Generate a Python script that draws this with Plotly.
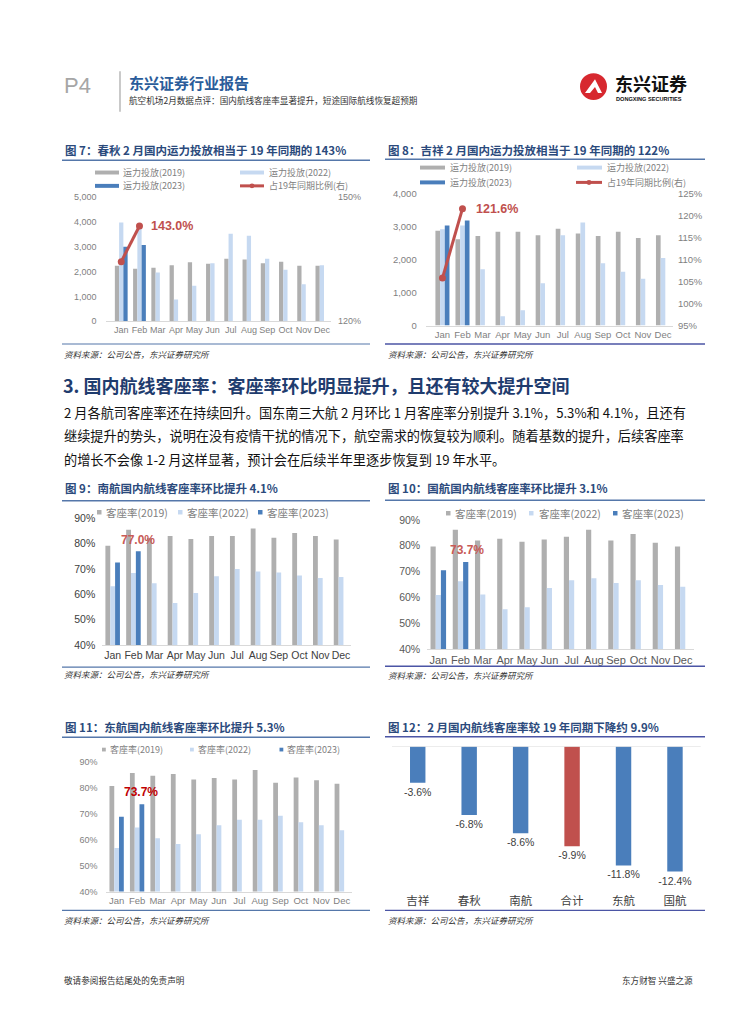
import plotly.graph_objects as go

W, H = 755, 1024
def X(px): return px / W
def Y(py): return 1 - py / H

months = ['Jan', 'Feb', 'Mar', 'Apr', 'May', 'Jun', 'Jul', 'Aug', 'Sep', 'Oct', 'Nov', 'Dec']

# Chart 7 - Spring Airlines capacity
cq_cap_2019 = [2230, 2110, 2150, 2250, 2370, 2310, 2520, 2490, 2330, 2400, 2230, 2230]
cq_cap_2022 = [3970, 3740, 1960, 880, 1430, 2330, 3520, 3440, 2520, 2070, 1490, 2250]
cq_cap_2023 = [3000, 3070, None, None, None, None, None, None, None, None, None, None]
cq_ratio = [1.344, 1.430]

# Chart 8 - Juneyao capacity
jx_cap_2019 = [2880, 2620, 2720, 2850, 2850, 2740, 2940, 2790, 2720, 2850, 2660, 2740]
jx_cap_2022 = [2920, 3040, 1710, 280, 460, 1280, 2740, 3130, 1890, 1630, 1420, 2050]
jx_cap_2023 = [3040, 3190, None, None, None, None, None, None, None, None, None, None]
jx_ratio = [1.058, 1.216]

# Chart 9 - China Southern load factor (%)
nh_lf_2019 = [79.2, 85.5, 82.2, 83.0, 81.8, 83.0, 83.0, 86.0, 82.3, 84.2, 83.0, 81.6]
nh_lf_2022 = [63.2, 68.4, 64.4, 56.6, 60.5, 67.1, 70.0, 69.0, 68.6, 67.4, 66.4, 66.8]
nh_lf_2023 = [72.6, 77.0, None, None, None, None, None, None, None, None, None, None]

# Chart 10 - Air China load factor (%)
gh_lf_2019 = [79.7, 86.2, 82.0, 82.7, 81.6, 82.4, 83.5, 86.2, 82.0, 84.6, 81.2, 79.7]
gh_lf_2022 = [61.0, 66.3, 61.2, 55.5, 56.3, 63.7, 66.7, 67.5, 65.6, 66.7, 64.9, 64.2]
gh_lf_2023 = [70.6, 73.7, None, None, None, None, None, None, None, None, None, None]

# Chart 11 - China Eastern load factor (%)
dh_lf_2019 = [80.7, 85.8, 84.7, 85.4, 83.3, 83.8, 83.3, 86.9, 82.0, 84.0, 83.0, 81.6]
dh_lf_2022 = [56.8, 64.7, 60.6, 58.3, 62.1, 65.6, 67.7, 67.7, 69.3, 66.7, 65.6, 63.7]
dh_lf_2023 = [68.9, 73.7, None, None, None, None, None, None, None, None, None, None]

# Chart 12 - Feb load factor vs 2019 (pct points)
airlines = ['吉祥', '春秋', '南航', '合计', '东航', '国航']
lf_change = [-3.6, -6.8, -8.6, -9.9, -11.8, -12.4]

GRAY = '#AFAFAF'
LIGHT = '#C6D9F1'
BLUE = '#4A7EBB'
RED = '#C0504D'
TITLE_C = '#2B4A7C'
LINE_C = '#5577AA'
NUM_FONT = "Arial, 'Liberation Sans', 'Noto Sans CJK SC', sans-serif"
CJK = "'Noto Sans CJK SC', sans-serif"

fig = go.Figure()

def add_bars(vals, color, xa, ya):
    fig.add_trace(go.Bar(x=months, y=vals, marker=dict(color=color, line=dict(width=0)),
                         xaxis=xa, yaxis=ya, showlegend=False, hoverinfo='skip'))

# chart 7
add_bars(cq_cap_2019, GRAY, 'x', 'y')
add_bars(cq_cap_2022, LIGHT, 'x', 'y')
add_bars(cq_cap_2023, BLUE, 'x', 'y')
fig.add_trace(go.Scatter(x=months[:2], y=cq_ratio, mode='lines+markers',
                         line=dict(color=RED, width=3), marker=dict(size=7, color=RED),
                         xaxis='x', yaxis='y2', showlegend=False, cliponaxis=False))
# chart 8
add_bars(jx_cap_2019, GRAY, 'x2', 'y3')
add_bars(jx_cap_2022, LIGHT, 'x2', 'y3')
add_bars(jx_cap_2023, BLUE, 'x2', 'y3')
fig.add_trace(go.Scatter(x=months[:2], y=jx_ratio, mode='lines+markers',
                         line=dict(color=RED, width=3), marker=dict(size=7, color=RED),
                         xaxis='x2', yaxis='y4', showlegend=False, cliponaxis=False))
# chart 9
add_bars(nh_lf_2019, GRAY, 'x3', 'y5')
add_bars(nh_lf_2022, LIGHT, 'x3', 'y5')
add_bars(nh_lf_2023, BLUE, 'x3', 'y5')
# chart 10
add_bars(gh_lf_2019, GRAY, 'x4', 'y6')
add_bars(gh_lf_2022, LIGHT, 'x4', 'y6')
add_bars(gh_lf_2023, BLUE, 'x4', 'y6')
# chart 11
add_bars(dh_lf_2019, GRAY, 'x5', 'y7')
add_bars(dh_lf_2022, LIGHT, 'x5', 'y7')
add_bars(dh_lf_2023, BLUE, 'x5', 'y7')
# chart 12
fig.add_trace(go.Bar(x=airlines, y=lf_change, width=0.3,
                     marker=dict(color=[RED if a == '合计' else BLUE for a in airlines], line=dict(width=0)),
                     text=[f'{v:.1f}%' for v in lf_change], textposition='outside',
                     constraintext='none',
                     textfont=dict(family=NUM_FONT, size=10.5, color='#404040'),
                     cliponaxis=False, xaxis='x6', yaxis='y8', showlegend=False, hoverinfo='skip'))

def xax(l, r, anchor, size, color, line='#D9D9D9'):
    return dict(domain=[X(l), X(r)], anchor=anchor, showgrid=False, zeroline=False,
                showline=True, linecolor=line, linewidth=1, ticks='', tickangle=0,
                tickfont=dict(family=NUM_FONT, size=size, color=color), fixedrange=True)

def yax(bottom, top, anchor, rng, size, color, **kw):
    d = dict(domain=[Y(bottom), Y(top)], anchor=anchor, range=rng, showgrid=False, zeroline=False,
             showline=False, ticks='', tickfont=dict(family=NUM_FONT, size=size, color=color),
             fixedrange=True)
    d.update(kw)
    return d

layout = dict(
    width=W, height=H, margin=dict(l=0, r=0, t=0, b=0),
    paper_bgcolor='white', plot_bgcolor='white',
    barmode='group', bargap=0.3, bargroupgap=0,
    showlegend=False,
    xaxis=xax(105.6, 331, 'y', 9, '#7F7F7F'),
    yaxis=yax(319, 193.3, 'x', [0, 5000], 9, '#7F7F7F',
              tickvals=[0, 1000, 2000, 3000, 4000, 5000], tickformat=',', ticklabelstandoff=8),
    yaxis2=dict(overlaying='y', side='right', anchor='x', range=[1.2, 1.5], tickvals=[1.2, 1.5],
                ticktext=['120%', '150%'], showgrid=False, zeroline=False, ticks='',
                tickfont=dict(family=NUM_FONT, size=9, color='#7F7F7F'), ticklabelstandoff=6,
                fixedrange=True),
    xaxis2=xax(425.7, 673, 'y3', 9.5, '#7F7F7F'),
    yaxis3=yax(323.3, 190, 'x2', [0, 4000], 9.5, '#7F7F7F',
               tickvals=[0, 1000, 2000, 3000, 4000], tickformat=',', ticklabelstandoff=8),
    yaxis4=dict(overlaying='y3', side='right', anchor='x2', range=[0.95, 1.25], dtick=0.05,
                tick0=0.95, tickformat='.0%', showgrid=False, zeroline=False, ticks='',
                tickfont=dict(family=NUM_FONT, size=9.5, color='#7F7F7F'), ticklabelstandoff=4,
                fixedrange=True),
    xaxis3=xax(102.3, 351.4, 'y5', 10.5, '#404040'),
    yaxis5=yax(646.7, 518.3, 'x3', [40, 90], 10.5, '#404040', dtick=10, tick0=40,
               ticksuffix='%', ticklabelstandoff=6),
    xaxis4=xax(427.2, 693.8, 'y6', 11, '#595959'),
    yaxis6=yax(651, 520, 'x4', [40, 90], 10.5, '#595959', dtick=10, tick0=40,
               ticksuffix='%', ticklabelstandoff=6),
    xaxis5=xax(106.4, 352, 'y7', 9.5, '#7F7F7F'),
    yaxis7=yax(896, 765, 'x5', [40, 90], 9, '#7F7F7F', dtick=10, tick0=40,
               ticksuffix='%', ticklabelstandoff=8),
    xaxis6=dict(domain=[X(392), X(700.7)], anchor='y8', showgrid=False, zeroline=False,
                showline=False, ticks='', tickangle=0,
                tickfont=dict(family=CJK, size=11.5, color='#404040'),
                fixedrange=True),
    yaxis8=dict(domain=[Y(897), Y(749.3)], anchor='x6', range=[-14.48, 0], visible=False,
                fixedrange=True),
)
fig.update_layout(**layout)

ann = []
shapes = []

def text(px, py, s, size, color, family=CJK, bold=False, italic=False, anchor='left'):
    if bold:
        s = f'<b>{s}</b>'
    if italic:
        s = f'<i>{s}</i>'
    ann.append(dict(x=X(px), y=Y(py), xref='paper', yref='paper', text=s, showarrow=False,
                    xanchor=anchor, yanchor='middle', font=dict(family=family, size=size, color=color)))

def hline(x0, x1, y, color, width=1.2):
    shapes.append(dict(type='line', xref='paper', yref='paper', x0=X(x0), x1=X(x1), y0=Y(y), y1=Y(y),
                       line=dict(color=color, width=width)))

def rect(x0, x1, y0, y1, color):
    shapes.append(dict(type='rect', xref='paper', yref='paper', x0=X(x0), x1=X(x1), y0=Y(y0), y1=Y(y1),
                       fillcolor=color, line=dict(width=0)))

# ---------- page header ----------
text(62, 80, 'P4', 22, '#A6A6A6', family=NUM_FONT)
shapes.append(dict(type='line', xref='paper', yref='paper', x0=X(120), x1=X(120), y0=Y(66), y1=Y(107),
                   line=dict(color='#A6A6A6', width=1.2)))
text(127, 77, '东兴证券行业报告', 15, '#2A5C9A', bold=True)
text(127, 95, '航空机场2月数据点评：国内航线客座率显著提升，短途国际航线恢复超预期', 8.6, '#333333')
# logo
shapes.append(dict(type='circle', xref='paper', yref='paper', x0=X(580), x1=X(607), y0=Y(95), y1=Y(68),
                   fillcolor='#D7282F', line=dict(width=0)))
shapes.append(dict(type='path', xref='paper', yref='paper',
                   path=f'M {X(585)} {Y(88)} L {X(595)} {Y(74)} L {X(602)} {Y(88)} L {X(598)} {Y(88)} '
                        f'L {X(595)} {Y(82)} L {X(590)} {Y(88)} Z',
                   fillcolor='white', line=dict(width=0)))
text(613, 78, '东兴证券', 18, '#111111', bold=True)
text(614, 94, 'DONGXING SECURITIES', 5.6, '#111111', family=NUM_FONT, bold=True)

# ---------- chart 7 ----------
text(63, 146, '图 7：春秋 2 月国内运力投放相当于 19 年同期的 143%', 11.5, TITLE_C, bold=True)
hline(62, 370, 156, LINE_C, 1.5)
rect(95, 119, 166.5, 170.5, GRAY)
text(121, 168.5, '运力投放(2019)', 9, '#808080')
rect(240, 264, 166.5, 170.5, LIGHT)
text(267, 168.5, '运力投放(2022)', 9, '#808080')
rect(95, 119, 180, 184, BLUE)
text(121, 182, '运力投放(2023)', 9, '#808080')
hline(240, 264, 182, RED, 3)
shapes.append(dict(type='circle', xref='paper', yref='paper', x0=X(249.5), x1=X(254.5), y0=Y(184.5), y1=Y(179.5),
                   fillcolor=RED, line=dict(width=0)))
text(267, 182, '占19年同期比例(右)', 9, '#808080')
ann.append(dict(x='Feb', y=cq_ratio[1], xref='x', yref='y2', text='<b>143.0%</b>', showarrow=False,
                xanchor='left', yanchor='middle', xshift=10,
                font=dict(family=NUM_FONT, size=12.5, color=RED)))
hline(62, 370, 342, LINE_C, 1.2)
text(62, 352, '资料来源：公司公告，东兴证券研究所', 8.5, '#333333', italic=True)

# ---------- chart 8 ----------
text(386, 146, '图 8：吉祥 2 月国内运力投放相当于 19 年同期的 122%', 11.5, TITLE_C, bold=True)
hline(385, 705, 155, LINE_C, 1.5)
rect(420, 445, 161.5, 165.5, GRAY)
text(448, 163.5, '运力投放(2019)', 9, '#808080')
rect(577, 602, 161.5, 165.5, LIGHT)
text(605, 163.5, '运力投放(2022)', 9, '#808080')
rect(420, 445, 176.5, 180.5, BLUE)
text(448, 178.5, '运力投放(2023)', 9, '#808080')
hline(576, 602, 178.5, RED, 3)
shapes.append(dict(type='circle', xref='paper', yref='paper', x0=X(586.5), x1=X(591.5), y0=Y(181), y1=Y(176),
                   fillcolor=RED, line=dict(width=0)))
text(605, 178.5, '占19年同期比例(右)', 9, '#808080')
ann.append(dict(x='Feb', y=jx_ratio[1], xref='x2', yref='y4', text='<b>121.6%</b>', showarrow=False,
                xanchor='left', yanchor='middle', xshift=12,
                font=dict(family=NUM_FONT, size=12.5, color=RED)))
hline(385, 705, 342, '#4B55A5', 1.5)
text(386, 352, '资料来源：公司公告，东兴证券研究所', 8.5, '#333333', italic=True)

# ---------- section heading & body ----------
text(61, 383, '3. 国内航线客座率：客座率环比明显提升，且还有较大提升空间', 18, '#1F3C6E', bold=True)
body = ['2 月各航司客座率还在持续回升。国东南三大航 2 月环比 1 月客座率分别提升 3.1%，5.3%和 4.1%，且还有',
        '继续提升的势头，说明在没有疫情干扰的情况下，航空需求的恢复较为顺利。随着基数的提升，后续客座率',
        '的增长不会像 1-2 月这样显著，预计会在后续半年里逐步恢复到 19 年水平。']
for i, line in enumerate(body):
    text(62, 411 + i * 24, line, 13.2, '#111111')

# ---------- chart 9 ----------
text(63, 488, '图 9：南航国内航线客座率环比提升 4.1%', 11.5, TITLE_C, bold=True)
hline(62, 370, 500.5, LINE_C, 1.5)
for sx, tx, c, lab in [(97, 103.5, GRAY, '客座率(2019)'), (178, 185, LIGHT, '客座率(2022)'),
                       (258, 265, BLUE, '客座率(2023)')]:
    rect(sx, sx + 4.5, 510, 514.5, c)
    text(tx, 512.5, lab, 10.5, '#7F7F7F')
ann.append(dict(x='Feb', y=81.6, xref='x3', yref='y5', text='<b>77.0%</b>', showarrow=False,
                xanchor='center', yanchor='middle', xshift=5,
                font=dict(family=NUM_FONT, size=12, color='#C85A56')))
hline(62, 370, 669, LINE_C, 1.2)
text(62, 676, '资料来源：公司公告，东兴证券研究所', 8.5, '#333333', italic=True)

# ---------- chart 10 ----------
text(386, 488, '图 10：国航国内航线客座率环比提升 3.1%', 11.5, TITLE_C, bold=True)
hline(385, 705, 500, LINE_C, 1.5)
for sx, tx, c, lab in [(446, 453, GRAY, '客座率(2019)'), (529, 536.5, LIGHT, '客座率(2022)'),
                       (613, 620, BLUE, '客座率(2023)')]:
    rect(sx, sx + 4.5, 511, 515.5, c)
    text(tx, 513.5, lab, 10.5, '#7F7F7F')
ann.append(dict(x='Feb', y=78.3, xref='x4', yref='y6', text='<b>73.7%</b>', showarrow=False,
                xanchor='center', yanchor='middle', xshift=6,
                font=dict(family=NUM_FONT, size=12, color='#C85A56')))
hline(385, 705, 668, '#4B55A5', 1.5)
text(386, 677, '资料来源：公司公告，东兴证券研究所', 8.5, '#333333', italic=True)

# ---------- chart 11 ----------
text(63, 730, '图 11：东航国内航线客座率环比提升 5.3%', 11.5, TITLE_C, bold=True)
hline(62, 370, 740, LINE_C, 1.5)
for sx, tx, c, lab in [(102, 108, GRAY, '客座率(2019)'), (190, 196, LIGHT, '客座率(2022)'),
                       (279.5, 285, BLUE, '客座率(2023)')]:
    rect(sx, sx + 3.8, 750.5, 754.3, c)
    text(tx, 752.5, lab, 9, '#7F7F7F')
ann.append(dict(x='Feb', y=78.3, xref='x5', yref='y7', text='<b>73.7%</b>', showarrow=False,
                xanchor='center', yanchor='middle', xshift=4,
                font=dict(family=NUM_FONT, size=12, color='#C00000')))
hline(62, 370, 915, LINE_C, 1.2)
text(62, 925, '资料来源：公司公告，东兴证券研究所', 8.5, '#333333', italic=True)

# ---------- chart 12 ----------
text(386, 730, '图 12：2 月国内航线客座率较 19 年同期下降约 9.9%', 11.5, TITLE_C, bold=True)
hline(385, 705, 739.5, '#4B55A5', 1.5)
shapes.append(dict(type='line', xref='x6 domain', yref='y8', x0=0, x1=1, y0=0, y1=0,
                   line=dict(color='#D9D9D9', width=1)))
hline(385, 705, 915, '#4B55A5', 1.2)
text(386, 925, '资料来源：公司公告，东兴证券研究所', 8.5, '#333333', italic=True)

# ---------- footer ----------
text(62, 986, '敬请参阅报告结尾处的免责声明', 8.6, '#333333')
text(695, 986, '东方财智 兴盛之源', 8.6, '#333333', anchor='right')

fig.update_layout(annotations=ann, shapes=shapes)
fig.write_html('out.html', config={'displayModeBar': False},
               post_script="document.body.style.margin='0';document.body.style.padding='0';"
                           "document.body.style.overflow='hidden';")
